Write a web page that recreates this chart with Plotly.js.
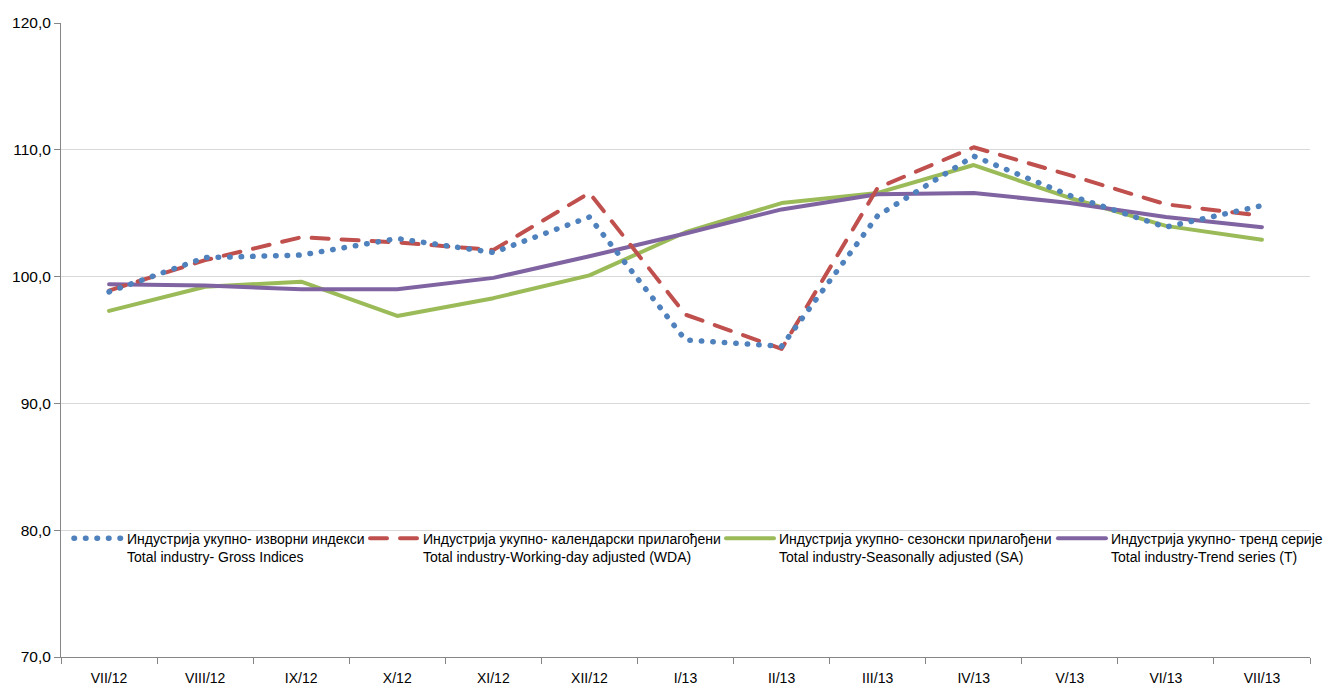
<!DOCTYPE html>
<html>
<head>
<meta charset="utf-8">
<script src="https://cdn.plot.ly/plotly-3.0.1.min.js"></script>
<style>
html,body{margin:0;padding:0;background:#fff;}
#chart{width:1326px;height:689px;}
#chart path.js-line{stroke-linecap:round;stroke-linejoin:round;}
</style>
</head>
<body>
<div id="chart"></div>
<script>
const months = ["VII/12","VIII/12","IX/12","X/12","XI/12","XII/12","I/13","II/13","III/13","IV/13","V/13","VI/13","VII/13"];
const grossIndices = [98.8,101.5,101.7,103.0,101.9,104.7,95.0,94.5,104.8,109.5,106.4,103.9,105.6];
const workingDayAdjusted = [98.9,101.3,103.1,102.7,102.1,106.6,97.0,94.3,107.0,110.2,108.0,105.7,104.8];
const seasonallyAdjusted = [97.3,99.2,99.6,96.9,98.3,100.1,103.5,105.8,106.6,108.8,106.2,104.0,102.9];
const trendSeries = [99.4,99.3,99.0,99.0,99.9,101.6,103.4,105.3,106.5,106.6,105.8,104.7,103.9];

const seriesNames = [
  "Индустрија укупно- изворни индекси<br>Total industry- Gross Indices",
  "Индустрија укупно- календарски прилагођени<br>Total industry-Working-day adjusted (WDA)",
  "Индустрија укупно- сезонски прилагођени<br>Total industry-Seasonally adjusted (SA)",
  "Индустрија укупно- тренд серије<br>Total industry-Trend series (T)"
];

const FONT = "'Liberation Sans Narrow', 'Liberation Sans', Arial, sans-serif";

const traces = [
  {x: months, y: seasonallyAdjusted, name: seriesNames[2], type: 'scatter', mode: 'lines',
   line: {color: '#9bbb59', width: 4}, legend: 'legend3'},
  {x: months, y: trendSeries, name: seriesNames[3], type: 'scatter', mode: 'lines',
   line: {color: '#8064a2', width: 4}, legend: 'legend4'},
  {x: months, y: workingDayAdjusted, name: seriesNames[1], type: 'scatter', mode: 'lines',
   line: {color: '#c0504d', width: 4, dash: '17px,13px'}, legend: 'legend2'},
  {x: months, y: grossIndices, name: seriesNames[0], type: 'scatter', mode: 'lines',
   line: {color: '#4f81bd', width: 5.5, dash: '0.5px,11px'}, legend: 'legend'}
];

function leg(x) {
  return {x: x, y: 0.212, xanchor: 'left', yanchor: 'top', xref: 'paper', yref: 'paper',
          bgcolor: 'rgba(0,0,0,0)', font: {family: FONT, size: 14, color: '#000'},
          itemwidth: 48, tracegroupgap: 0, valign: 'top'};
}

const layout = {
  width: 1326, height: 689,
  margin: {l: 61, r: 16, t: 23, b: 32, pad: 0, autoexpand: false},
  paper_bgcolor: '#fff', plot_bgcolor: '#fff',
  separators: ',.',
  font: {family: FONT, color: '#000'},
  showlegend: true,
  legend: leg(0.0064),
  legend2: leg(0.2434),
  legend3: leg(0.5284),
  legend4: leg(0.7942),
  xaxis: {
    type: 'category', range: [-0.5, 12.5], showgrid: false, showline: true, linecolor: '#868686', linewidth: 1,
    ticks: 'outside', ticklen: 6, tickcolor: '#868686', tickson: 'boundaries',
    ticklabelstandoff: 8, automargin: false,
    tickfont: {family: FONT, size: 14, color: '#000'}, zeroline: false, fixedrange: true
  },
  yaxis: {
    range: [70, 120], dtick: 10, tick0: 70, tickformat: '.1f', automargin: false,
    showgrid: true, gridcolor: '#d9d9d9', gridwidth: 1,
    showline: true, linecolor: '#868686', linewidth: 1,
    ticks: 'outside', ticklen: 6, tickcolor: '#868686',
    tickfont: {family: FONT, size: 15.5, color: '#000'}, zeroline: false, fixedrange: true
  }
};

Plotly.newPlot('chart', traces, layout, {displayModeBar: false, staticPlot: true});
</script>
</body>
</html>
